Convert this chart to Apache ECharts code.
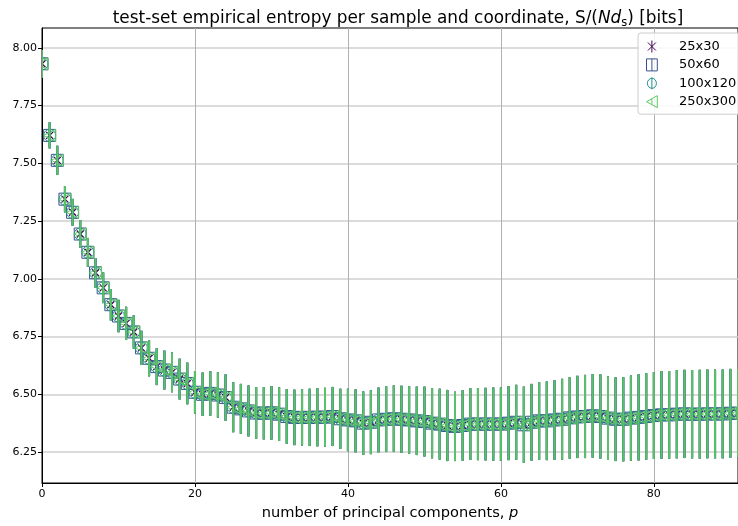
<!DOCTYPE html>
<html>
<head>
<meta charset="utf-8">
<script src="https://cdn.jsdelivr.net/npm/echarts@6/dist/echarts.min.js"></script>
<style>html,body{margin:0;padding:0;background:#fff}#c{width:738px;height:526px}</style>
</head>
<body>
<div id="c"></div>
<script>
// number of principal components p
var pValues = [];
for (var k = 0; k <= 91; k++) pValues.push(k);

// mean entropy per sample and coordinate (all four sizes overlap in the picture)
var meanEntropy = [
  7.931, 7.621, 7.513, 7.345, 7.288, 7.194, 7.115, 7.026, 6.961, 6.888,
  6.839, 6.807, 6.770, 6.701, 6.656, 6.620, 6.605, 6.595, 6.566, 6.547,
  6.509, 6.500, 6.504, 6.497, 6.486, 6.444, 6.437, 6.428, 6.419, 6.418,
  6.420, 6.414, 6.404, 6.400, 6.400, 6.400, 6.401, 6.401, 6.404, 6.394,
  6.389, 6.385, 6.375, 6.379, 6.389, 6.392, 6.394, 6.392, 6.389, 6.385,
  6.382, 6.375, 6.371, 6.365, 6.361, 6.365, 6.371, 6.371, 6.371, 6.371,
  6.371, 6.375, 6.379, 6.368, 6.379, 6.385, 6.385, 6.389, 6.392, 6.398,
  6.402, 6.404, 6.407, 6.404, 6.397, 6.392, 6.392, 6.397, 6.400, 6.404,
  6.408, 6.411, 6.411, 6.414, 6.415, 6.414, 6.414, 6.415, 6.415, 6.415,
  6.418, 6.418
];

// half-length of the error bars
var errHalf = [
  0.060, 0.056, 0.063, 0.057, 0.058, 0.060, 0.062, 0.064, 0.066, 0.068,
  0.070, 0.072, 0.072, 0.074, 0.078, 0.080, 0.084, 0.086, 0.088, 0.090,
  0.092, 0.094, 0.096, 0.098, 0.100, 0.108, 0.108, 0.110, 0.112, 0.113,
  0.116, 0.116, 0.118, 0.120, 0.122, 0.124, 0.126, 0.127, 0.128, 0.130,
  0.135, 0.136, 0.137, 0.138, 0.140, 0.142, 0.144, 0.145, 0.146, 0.148,
  0.151, 0.152, 0.153, 0.154, 0.150, 0.152, 0.155, 0.156, 0.157, 0.158,
  0.158, 0.160, 0.162, 0.165, 0.166, 0.168, 0.170, 0.172, 0.175, 0.177,
  0.178, 0.180, 0.181, 0.182, 0.181, 0.181, 0.182, 0.184, 0.186, 0.187,
  0.188, 0.190, 0.190, 0.191, 0.191, 0.191, 0.192, 0.192, 0.192, 0.192,
  0.192, 0.192
];

var seriesNames = ['25x30', '50x60', '100x120', '250x300'];
var seriesColors = ['#440154', '#3b528b', '#21918c', '#5ec962'];
var yTicks = [6.25, 6.50, 6.75, 7.00, 7.25, 7.50, 7.75, 8.00];
var xTicks = [0, 20, 40, 60, 80];

var FONT = 'DejaVu Sans';
var markerKinds = ['x', 'square', 'circle', 'triangleLeft'];
var legendIcons = [
  'path://M0,2L8,10M8,2L0,10M4,0L4,12',
  'path://M0,1L9,1L9,11L0,11ZM4.5,1L4.5,11',
  'path://M4.5,1A4.5,5,0,1,1,4.49,1ZM4.5,0L4.5,12',
  'path://M0,6L9,1L9,11ZM4.5,3.5L4.5,8.5'
];

function markerShape(kind, c, color) {
  var st = { fill: 'none', stroke: color, lineWidth: 1 };
  var h = 6;
  if (kind === 'x') {
    var q = 3.5;
    return { type: 'group', children: [
      { type: 'line', shape: { x1: c[0] - q, y1: c[1] - q, x2: c[0] + q, y2: c[1] + q }, style: { stroke: color, lineWidth: 1.3 } },
      { type: 'line', shape: { x1: c[0] + q, y1: c[1] - q, x2: c[0] - q, y2: c[1] + q }, style: { stroke: color, lineWidth: 1.3 } }
    ] };
  }
  if (kind === 'square') return { type: 'rect', shape: { x: c[0] - h, y: c[1] - h, width: 2 * h, height: 2 * h }, style: st };
  if (kind === 'circle') return { type: 'circle', shape: { cx: c[0], cy: c[1], r: h }, style: st };
  return { type: 'polygon', shape: { points: [[c[0] - h, c[1]], [c[0] + h, c[1] - h], [c[0] + h, c[1] + h]] }, style: st };
}

var series = [];
seriesNames.forEach(function (name, s) {
  var color = seriesColors[s];
  var kind = markerKinds[s];
  var barData = pValues.map(function (p, i) {
    return [p, meanEntropy[i], meanEntropy[i] - errHalf[i], meanEntropy[i] + errHalf[i]];
  });
  series.push({
    name: name,
    type: 'custom',
    clip: true,
    encode: { x: 0, y: [1, 2, 3] },
    data: barData,
    z: 2 + s,
    silent: true,
    itemStyle: { color: 'none', borderColor: color, borderWidth: 1 },
    renderItem: function (params, api) {
      var x = api.value(0);
      var a = api.coord([x, api.value(3)]);
      var b = api.coord([x, api.value(2)]);
      var c = api.coord([x, api.value(1)]);
      return { type: 'group', children: [
        { type: 'line', shape: { x1: a[0], y1: a[1], x2: b[0], y2: b[1] }, style: { stroke: color, lineWidth: 2, opacity: 0.9 } },
        markerShape(kind, c, color)
      ] };
    }
  });
});

var chart = echarts.init(document.getElementById('c'), null, { renderer: 'canvas' });
chart.setOption({
  animation: false,
  backgroundColor: '#fff',
  title: {
    text: 'test-set empirical entropy per sample and coordinate, S/({i|Nd}{sub|s}) [bits]',
    left: 393,
    top: 4,
    textAlign: 'center',
    textStyle: {
      fontFamily: FONT, fontSize: 16.9, fontWeight: 'normal', color: '#000',
      rich: {
        i: { fontFamily: FONT, fontSize: 16.9, fontStyle: 'italic', color: '#000' },
        sub: { fontFamily: FONT, fontSize: 11.5, color: '#000', padding: [8, 0, 0, 0] }
      }
    }
  },
  legend: {
    left: 638,
    top: 33,
    orient: 'vertical',
    padding: [5, 40, 4, 6],
    itemWidth: 22,
    itemHeight: 12,
    itemGap: 1.4,
    backgroundColor: 'rgba(255,255,255,0.85)',
    borderColor: '#cccccc',
    borderWidth: 1,
    borderRadius: 3,
    textStyle: { fontFamily: FONT, fontSize: 13, lineHeight: 13, color: '#000', padding: [0, 0, 0, 11] },
    data: seriesNames.map(function (n, s) {
      return {
        name: n,
        icon: legendIcons[s],
        itemStyle: { color: 'none', borderColor: seriesColors[s], borderWidth: 1 }
      };
    })
  },
  grid: {
    left: 42, right: -1, top: 28, bottom: 41,
    show: true, borderColor: '#000', borderWidth: 1, backgroundColor: 'transparent'
  },
  xAxis: {
    type: 'value',
    min: 0,
    max: 91,
    name: 'number of principal components, {i|p}',
    nameLocation: 'middle',
    nameGap: 23,
    nameTextStyle: {
      fontFamily: FONT, fontSize: 14.6, color: '#000',
      rich: { i: { fontFamily: FONT, fontSize: 14.6, fontStyle: 'italic', color: '#000' } }
    },
    axisLine: { show: true, lineStyle: { color: '#000', width: 1 } },
    axisTick: { show: true, inside: false, length: 4, customValues: xTicks, lineStyle: { color: '#000' } },
    axisLabel: { customValues: xTicks, fontFamily: FONT, fontSize: 11, color: '#000', margin: 6 },
    splitLine: { show: true, lineStyle: { color: '#b0b0b0', width: 1 } }
  },
  yAxis: {
    type: 'value',
    min: 6.116,
    max: 8.086,
    axisLine: { show: true, lineStyle: { color: '#000', width: 1 } },
    axisTick: { show: true, inside: false, length: 4, customValues: yTicks, lineStyle: { color: '#000' } },
    axisLabel: {
      customValues: yTicks, fontFamily: FONT, fontSize: 11, color: '#000', margin: 5,
      formatter: function (v) { return v.toFixed(2); }
    },
    splitLine: { show: true, lineStyle: { color: '#cfcfcf', width: 1.5 } }
  },
  series: series
});
</script>
</body>
</html>
